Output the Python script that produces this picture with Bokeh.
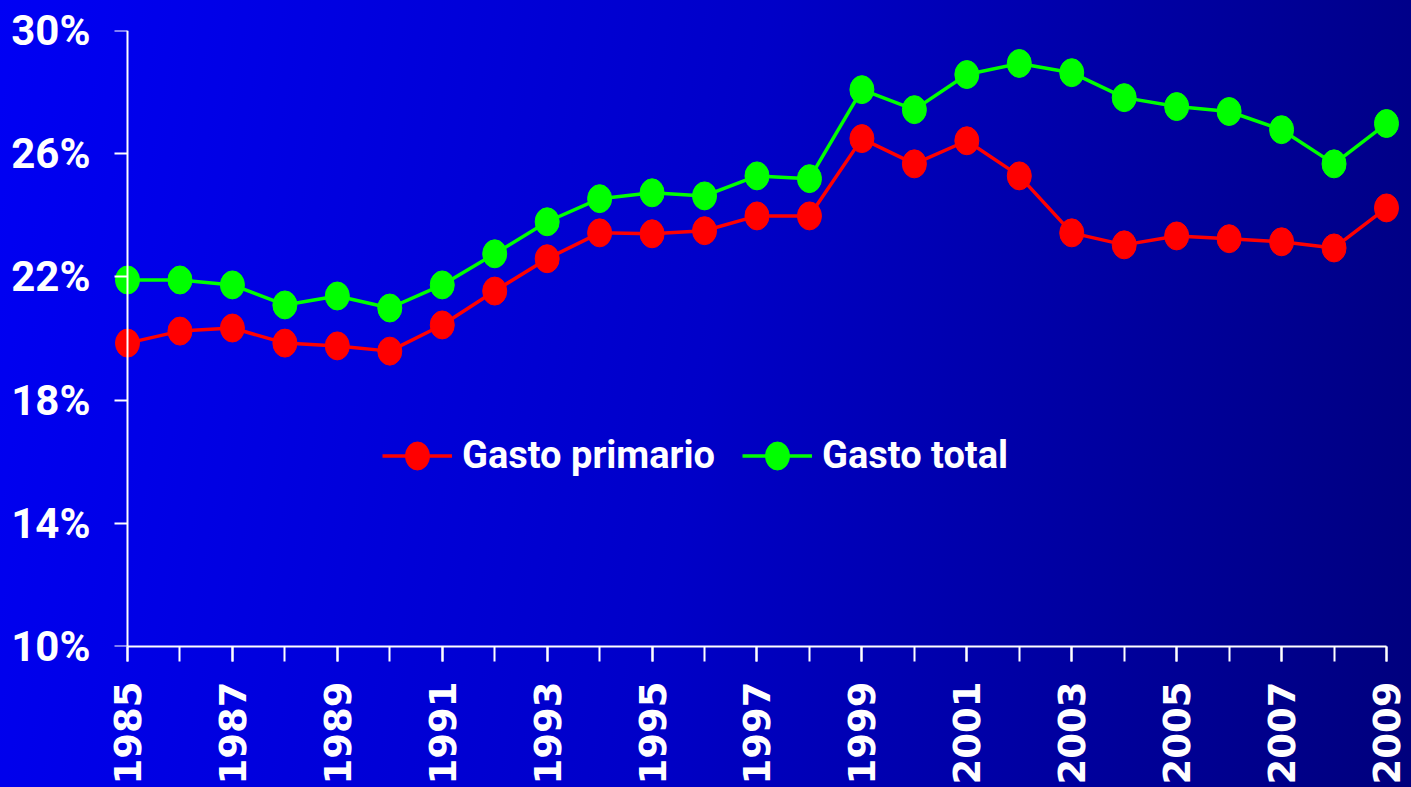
from bokeh.plotting import figure
from bokeh.models import (Range1d, FixedTicker, PrintfTickFormatter, Legend, LegendItem,
                          LinearAxis)
from bokeh.embed import file_html
from bokeh.resources import INLINE

# ---- data ----
years = list(range(1985, 2010))
gasto_primario = [19.85, 20.24, 20.34, 19.85, 19.76, 19.59, 20.44, 21.54, 22.59, 23.43,
                  23.40, 23.50, 23.98, 23.98, 26.49, 25.67, 26.42, 25.28, 23.43, 23.04,
                  23.33, 23.24, 23.14, 22.94, 24.24]
gasto_total = [21.90, 21.90, 21.74, 21.09, 21.38, 20.99, 21.74, 22.75, 23.79, 24.54,
               24.73, 24.63, 25.28, 25.19, 28.08, 27.43, 28.57, 28.93, 28.63, 27.82,
               27.53, 27.37, 26.78, 25.67, 26.98]
y_ticks = [10, 14, 18, 22, 26, 30]
labeled_years = years[::2]
series_names = ["Gasto primario", "Gasto total"]

FONT_LBL = "Roboto"

p = figure(width=1411, height=787, output_backend="svg", toolbar_location=None,
           x_range=Range1d(1984.714, 2009.267), y_range=Range1d(y_ticks[0], y_ticks[-1]),
           min_border_left=112, min_border_right=11, min_border_top=30, min_border_bottom=141)
p.border_fill_alpha = 0
p.background_fill_alpha = 0
p.outline_line_alpha = 0
p.grid.visible = False

# y axis labels (left panel, labels only)
ya = p.yaxis[0]
ya.ticker = FixedTicker(ticks=y_ticks, minor_ticks=[])
ya.formatter = PrintfTickFormatter(format="%d%%")
ya.axis_line_alpha = 0
ya.major_tick_line_alpha = 0
ya.major_tick_out = 0
ya.major_tick_in = 0
ya.minor_tick_line_alpha = 0
ya.major_label_standoff = 22
ya.major_label_text_color = "white"
ya.major_label_text_font = FONT_LBL
ya.major_label_text_font_style = "bold"
ya.major_label_text_font_size = "42px"

# y axis line + ticks, placed at the first year
yline = LinearAxis(fixed_location=years[0],
                   ticker=FixedTicker(ticks=y_ticks, minor_ticks=[]),
                   major_label_overrides={t: "" for t in y_ticks},
                   major_label_standoff=0, major_label_text_font_size="1px",
                   axis_line_color="white", axis_line_width=2,
                   major_tick_line_color="white", major_tick_line_width=2,
                   major_tick_in=13, major_tick_out=0, minor_tick_line_alpha=0)
p.add_layout(yline, "right")

# x axis
xa = p.xaxis[0]
xa.bounds = (years[0], years[-1])
xa.ticker = FixedTicker(ticks=labeled_years, minor_ticks=years)
xa.axis_line_color = "white"
xa.axis_line_width = 2
xa.major_tick_line_color = "white"
xa.major_tick_line_width = 2
xa.major_tick_out = 15
xa.major_tick_in = 0
xa.minor_tick_line_color = "white"
xa.minor_tick_line_width = 2
xa.minor_tick_out = 15
xa.minor_tick_in = 0
xa.major_label_orientation = 3.14159265 / 2
xa.major_label_standoff = 20
xa.major_label_text_color = "white"
xa.major_label_text_font = "DejaVu Sans"
xa.major_label_text_font_style = "bold"
xa.major_label_text_font_size = "37px"

colors = ["#ff0000", "#00ff00"]
items = []
for name, vals, c in zip(series_names, [gasto_primario, gasto_total], colors):
    r1 = p.line(years, vals, line_color=c, line_width=3.5)
    r2 = p.ellipse(years, vals, width=24, height=28, width_units="screen",
                   height_units="screen", fill_color=c, line_color=c)
    items.append(LegendItem(label=name, renderers=[r1, r2]))

legend = Legend(items=items, orientation="horizontal", location=(270, 169),
                background_fill_alpha=0, border_line_alpha=0, padding=0, margin=0,
                glyph_width=70, glyph_height=35, label_standoff=10, spacing=27,
                label_text_color="white", label_text_font=FONT_LBL,
                label_text_font_style="bold", label_text_font_size="38px")
p.add_layout(legend, "center")

html = file_html(p, INLINE)
html = html.replace("</head>",
                    "<style>html,body{margin:0;padding:0;min-height:100%;"
                    "background:linear-gradient(100deg,#0000f4 0%,#0000c8 50%,#00007c 100%);}</style></head>", 1)
open("out.html", "w").write(html)
